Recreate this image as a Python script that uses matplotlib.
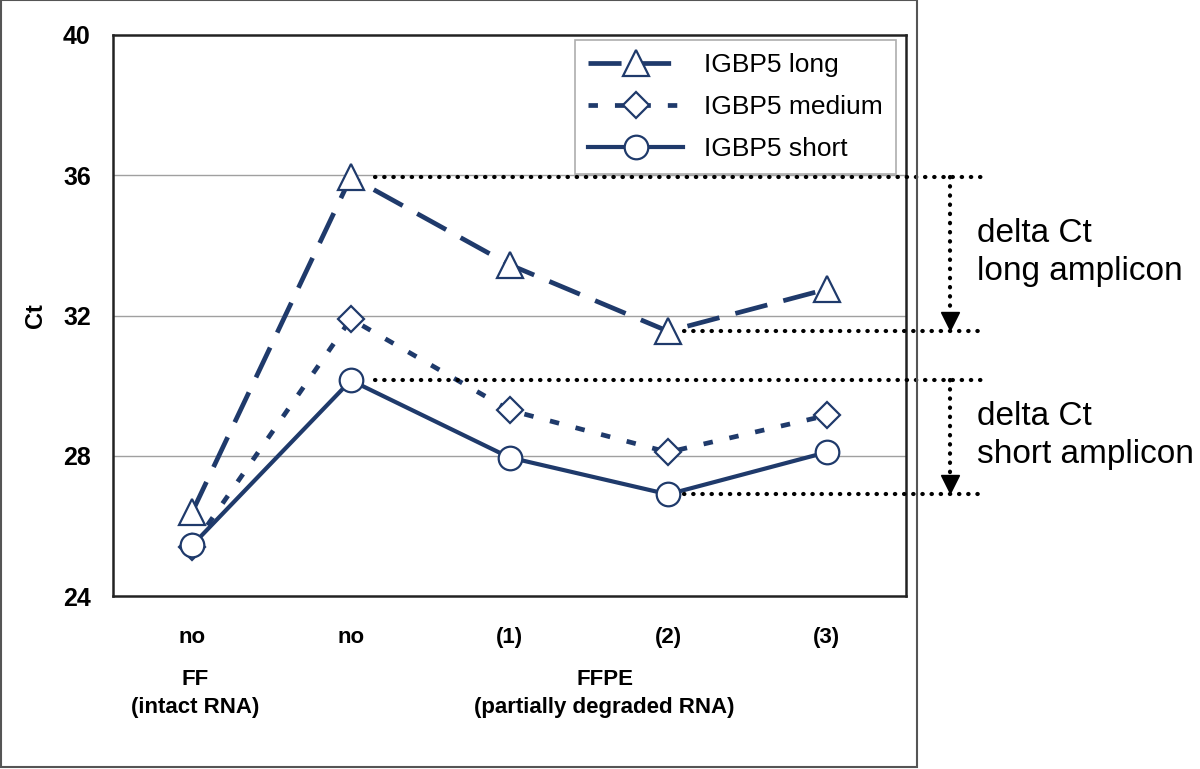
import matplotlib
matplotlib.use("Agg")
import matplotlib.pyplot as plt
from matplotlib.patches import Rectangle

plt.rcParams['font.family'] = ['Liberation Sans', 'DejaVu Sans']

categories = ["no", "no", "(1)", "(2)", "(3)"]
long_ct = [26.4, 35.95, 33.45, 31.55, 32.75]
medium_ct = [25.4, 31.9, 29.3, 28.1, 29.15]
short_ct = [25.45, 30.15, 27.95, 26.9, 28.1]
series_names = ["IGBP5 long", "IGBP5 medium", "IGBP5 short"]
yticks = [24, 28, 32, 36, 40]
group_labels = ["FF\n(intact RNA)", "FFPE\n(partially degraded RNA)"]
annot_texts = ["delta Ct\nlong amplicon", "delta Ct\nshort amplicon"]

navy = '#1f3a6b'
W, H = 1200, 769
fig = plt.figure(figsize=(12, 7.69), dpi=100)
ax = fig.add_axes([113 / W, 1 - 596 / H, (906 - 113) / W, (596 - 35) / H])

x = list(range(len(categories)))
ax.plot(x, long_ct, color=navy, lw=3.4, linestyle=(0, (7, 3.5)), marker='^',
        markersize=19, markerfacecolor='white', markeredgecolor=navy, markeredgewidth=1.6,
        label=series_names[0], zorder=4)
ax.plot(x, medium_ct, color=navy, lw=3.4, linestyle=(0, (2.0, 3.6)), marker='D',
        markersize=13, markerfacecolor='white', markeredgecolor=navy, markeredgewidth=1.6,
        label=series_names[1], zorder=4)
ax.plot(x, short_ct, color=navy, lw=3.0, linestyle='-', marker='o',
        markersize=17, markerfacecolor='white', markeredgecolor=navy, markeredgewidth=1.6,
        label=series_names[2], zorder=5)

ax.set_xlim(-0.5, 4.5)
ax.set_ylim(24, 40)
ax.set_yticks(yticks)
ax.set_yticklabels([str(t) for t in yticks], fontsize=18, fontweight='bold')
ax.set_xticks(x)
ax.set_xticklabels(categories, fontsize=16, fontweight='bold')
ax.tick_params(axis='both', length=0)
ax.tick_params(axis='y', pad=16)
ax.tick_params(axis='x', pad=22)
for t in [28, 32, 36]:
    ax.axhline(t, color='#a0a0a0', lw=1, zorder=1)
for s in ax.spines.values():
    s.set_linewidth(1.8)
    s.set_color('#222222')
ax.text(-0.098, 0.5, "Ct", transform=ax.transAxes, rotation=90, ha='center',
        va='center', fontsize=17, fontweight='bold')

# group labels
ax.text(0.02, -0.13, group_labels[0], transform=ax.get_xaxis_transform(),
        ha='center', va='top', fontsize=16, fontweight='bold', linespacing=1.45)
ax.text(2.6, -0.13, group_labels[1], transform=ax.get_xaxis_transform(),
        ha='center', va='top', fontsize=16, fontweight='bold', linespacing=1.45)

# legend
leg = ax.legend(loc='upper right', bbox_to_anchor=(0.9875, 0.991), borderaxespad=0,
                fontsize=19, handlelength=3.6, handletextpad=0.8, labelspacing=0.68,
                borderpad=0.5, fancybox=False, frameon=True, edgecolor='#999999')
leg.get_frame().set_linewidth(1.2)

# annotation lines (delta Ct)
dot = dict(color='black', lw=3, linestyle=(0, (0.1, 2.1)), dash_capstyle='round',
           clip_on=False, zorder=6)
ax.plot([1.15, 5.0], [long_ct[1], long_ct[1]], **dot)
ax.plot([3.1, 5.0], [long_ct[3], long_ct[3]], **dot)
ax.plot([1.15, 5.0], [short_ct[1], short_ct[1]], **dot)
ax.plot([3.1, 5.0], [short_ct[3], short_ct[3]], **dot)
ax_x = 4.78
ax.plot([ax_x, ax_x], [long_ct[1], long_ct[3] + 0.45], **dot)
ax.plot([ax_x, ax_x], [short_ct[1], short_ct[3] + 0.45], **dot)
ax.plot([ax_x], [long_ct[3] + 0.3], marker='v', color='black', markersize=13,
        clip_on=False, zorder=7)
ax.plot([ax_x], [short_ct[3] + 0.3], marker='v', color='black', markersize=13,
        clip_on=False, zorder=7)

ax.text(4.95, (long_ct[1] + long_ct[3]) / 2 + 0.05, annot_texts[0], ha='left', va='center',
        fontsize=24, linespacing=1.3, clip_on=False)
ax.text(4.95, (short_ct[1] + short_ct[3]) / 2 + 0.05, annot_texts[1], ha='left', va='center',
        fontsize=24, linespacing=1.3, clip_on=False)

# outer frame
fig.patches.append(Rectangle((1 / W, 2 / H), (917 - 1) / W, (H - 2) / H,
                             transform=fig.transFigure, fill=False,
                             edgecolor='#555555', lw=1.5, zorder=10))

fig.savefig("out.png", dpi=100)
